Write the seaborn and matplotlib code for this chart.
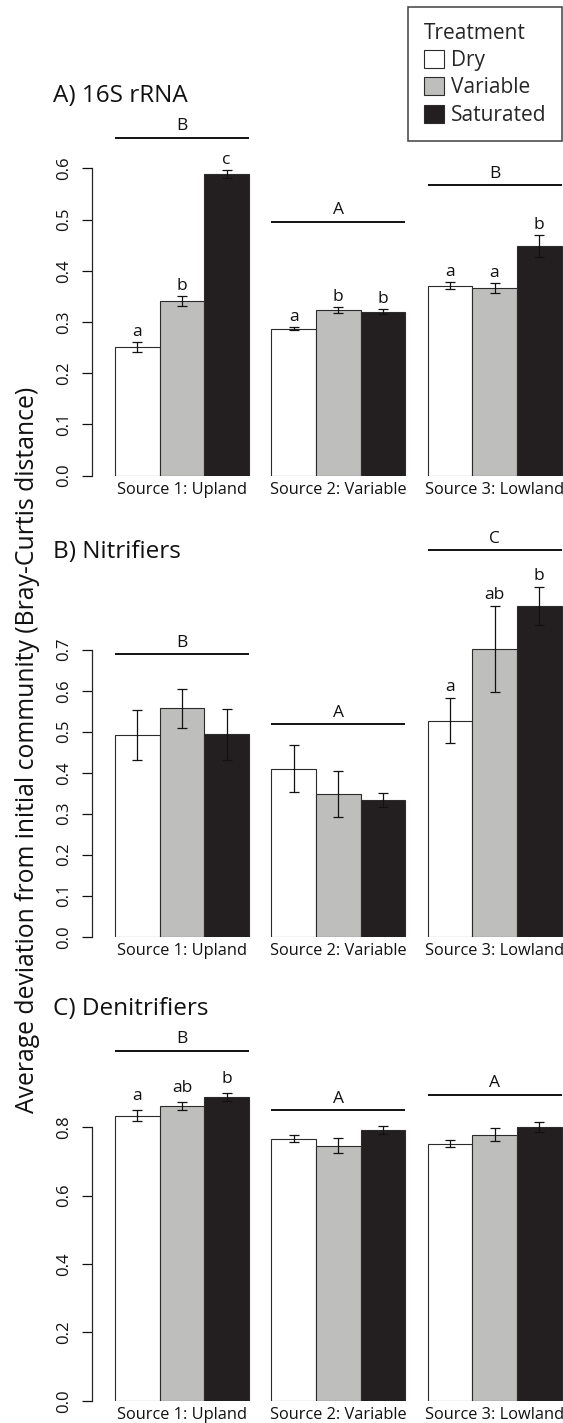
import matplotlib
matplotlib.use("Agg")
import matplotlib.pyplot as plt
import numpy as np
import pandas as pd
import seaborn as sns

# ---- data -------------------------------------------------------------
sources = ["Source 1: Upland", "Source 2: Variable", "Source 3: Lowland"]
treatments = ["Dry", "Variable", "Saturated"]
treatment_colors = ["#FFFFFF", "#BEBEBD", "#231F20"]

panel_titles = ["A) 16S rRNA", "B) Nitrifiers", "C) Denitrifiers"]
y_label = "Average deviation from initial community (Bray-Curtis distance)"

# mean distance (rows: source, columns: treatment) and standard errors
mean_16s = [[0.251, 0.341, 0.589], [0.287, 0.324, 0.320], [0.371, 0.366, 0.448]]
se_16s = [[0.010, 0.010, 0.007], [0.003, 0.006, 0.0045], [0.006, 0.010, 0.021]]
letters_16s = [["a", "b", "c"], ["a", "b", "b"], ["a", "a", "b"]]
source_letters_16s = ["B", "A", "B"]
source_bar_16s = [0.660, 0.495, 0.567]
ticks_16s = [0.0, 0.1, 0.2, 0.3, 0.4, 0.5, 0.6]

mean_nit = [[0.492, 0.557, 0.494], [0.410, 0.349, 0.333], [0.527, 0.701, 0.806]]
se_nit = [[0.060, 0.048, 0.062], [0.058, 0.056, 0.0175], [0.055, 0.105, 0.046]]
letters_nit = [["", "", ""], ["", "", ""], ["a", "ab", "b"]]
source_letters_nit = ["B", "A", "C"]
source_bar_nit = [0.689, 0.518, 0.942]
ticks_nit = [0.0, 0.1, 0.2, 0.3, 0.4, 0.5, 0.6, 0.7]

mean_den = [[0.833, 0.861, 0.888], [0.766, 0.746, 0.791], [0.752, 0.778, 0.801]]
se_den = [[0.016, 0.011, 0.013], [0.011, 0.0225, 0.011], [0.011, 0.019, 0.015]]
letters_den = [["a", "ab", "b"], ["", "", ""], ["", "", ""]]
source_letters_den = ["B", "A", "A"]
source_bar_den = [1.0225, 0.849, 0.894]
ticks_den = [0.0, 0.2, 0.4, 0.6, 0.8]

panels = [
    (mean_16s, se_16s, letters_16s, source_letters_16s, source_bar_16s, ticks_16s),
    (mean_nit, se_nit, letters_nit, source_letters_nit, source_bar_nit, ticks_nit),
    (mean_den, se_den, letters_den, source_letters_den, source_bar_den, ticks_den),
]

# ---- layout (pixels on a 563 x 1423 canvas) ------------------------------
W, H, DPI = 563, 1423, 100
ax_left_px, ax_right_px = 92, 563
baseline_px = [475.5, 936.7, 1400.7]
px_per_unit = [512.0, 410.0, 342.0]
top_px = [130, 560, 1040]
title_baseline_px = [101.7, 558.3, 1015.0]
letter_pad_px = [6, 7, 10]
xlim = (-0.576, 2.438)

sns.set_style("ticks")
plt.rcParams["font.family"] = ["Open Sans", "DejaVu Sans"]

fig = plt.figure(figsize=(W / DPI, H / DPI), dpi=DPI)
fig.patch.set_facecolor("white")

for k, (means, ses, letters, src_letters, src_bar, ticks) in enumerate(panels):
    base, scale, top = baseline_px[k], px_per_unit[k], top_px[k]
    ax = fig.add_axes([ax_left_px / W, 1 - base / H,
                       (ax_right_px - ax_left_px) / W, (base - top) / H])

    df = pd.DataFrame({
        "source": np.repeat(sources, len(treatments)),
        "treatment": treatments * len(sources),
        "mean": np.ravel(means),
        "se": np.ravel(ses),
        "letter": np.ravel(letters),
    })

    sns.barplot(data=df, x="source", y="mean", hue="treatment",
                order=sources, hue_order=treatments, palette=treatment_colors,
                width=6 / 7, gap=0, errorbar=None, edgecolor="#2b2b2b",
                linewidth=0.8, saturation=1, legend=(k == 0), ax=ax)

    ax.set_xlim(*xlim)
    ax.set_ylim(0, (base - top) / scale)

    # bars in left-to-right order line up with source-then-treatment rows
    bars = sorted([p for p in ax.patches if p.get_width() > 0],
                  key=lambda p: p.get_x())
    xs = np.array([b.get_x() + b.get_width() / 2 for b in bars])
    hs = np.array([b.get_height() for b in bars])
    ax.errorbar(xs, hs, yerr=df["se"].to_numpy(), fmt="none", ecolor="#111111",
                elinewidth=0.9, capsize=3.4, capthick=0.9, zorder=4)

    # treatment letters above each error bar
    for x, h, e, lab in zip(xs, hs, df["se"], df["letter"]):
        if lab:
            ax.annotate(lab, (x, h + e), xytext=(0, letter_pad_px[k] * 0.72),
                        textcoords="offset points", ha="center", va="baseline",
                        fontsize=12.5, color="#111111", annotation_clip=False)

    # source-level grouping lines and letters
    nt = len(treatments)
    for g in range(len(sources)):
        grp = bars[g * nt:(g + 1) * nt]
        x0 = grp[0].get_x()
        x1 = grp[-1].get_x() + grp[-1].get_width()
        ax.plot([x0, x1], [src_bar[g], src_bar[g]], color="#111111", lw=1.4,
                clip_on=False, solid_capstyle="butt")
        ax.annotate(src_letters[g], ((x0 + x1) / 2, src_bar[g]),
                    xytext=(0, 5.5), textcoords="offset points", ha="center",
                    va="baseline", fontsize=12.5, color="#111111",
                    annotation_clip=False)

    sns.despine(ax=ax, bottom=True)
    ax.spines["left"].set_bounds(ticks[0], ticks[-1])
    ax.spines["left"].set_linewidth(0.9)
    ax.set_yticks(ticks)
    ax.set_yticklabels([f"{t:.1f}" for t in ticks], rotation=90, va="center")
    ax.tick_params(axis="y", length=7.2, width=0.9, pad=7, labelsize=12,
                   colors="#111111")
    ax.tick_params(axis="x", length=0, pad=4.5, labelsize=11.8,
                   colors="#111111")
    ax.set_xlabel("")
    ax.set_ylabel("")
    ax.set_facecolor("none")

    fig.text(53 / W, 1 - title_baseline_px[k] / H, panel_titles[k],
             ha="left", va="baseline", fontsize=17.5, color="#111111")

    if k == 0:
        sns.move_legend(ax, "upper right",
                        bbox_to_anchor=(562 / W, 1 - 7 / H),
                        bbox_transform=fig.transFigure, title="Treatment",
                        frameon=True, fancybox=False, fontsize=15,
                        title_fontsize=15, alignment="left",
                        handlelength=0.95, handleheight=0.95,
                        handletextpad=0.35, labelspacing=0.3,
                        borderpad=0.75, borderaxespad=0)
        leg = ax.get_legend()
        leg.get_frame().set_edgecolor("#111111")
        leg.get_frame().set_linewidth(1.1)

fig.text(28 / W, 1 - 750 / H, y_label, rotation=90, ha="center",
         va="center", fontsize=17.8, color="#111111")

fig.savefig("out.png", dpi=DPI, facecolor="white")
